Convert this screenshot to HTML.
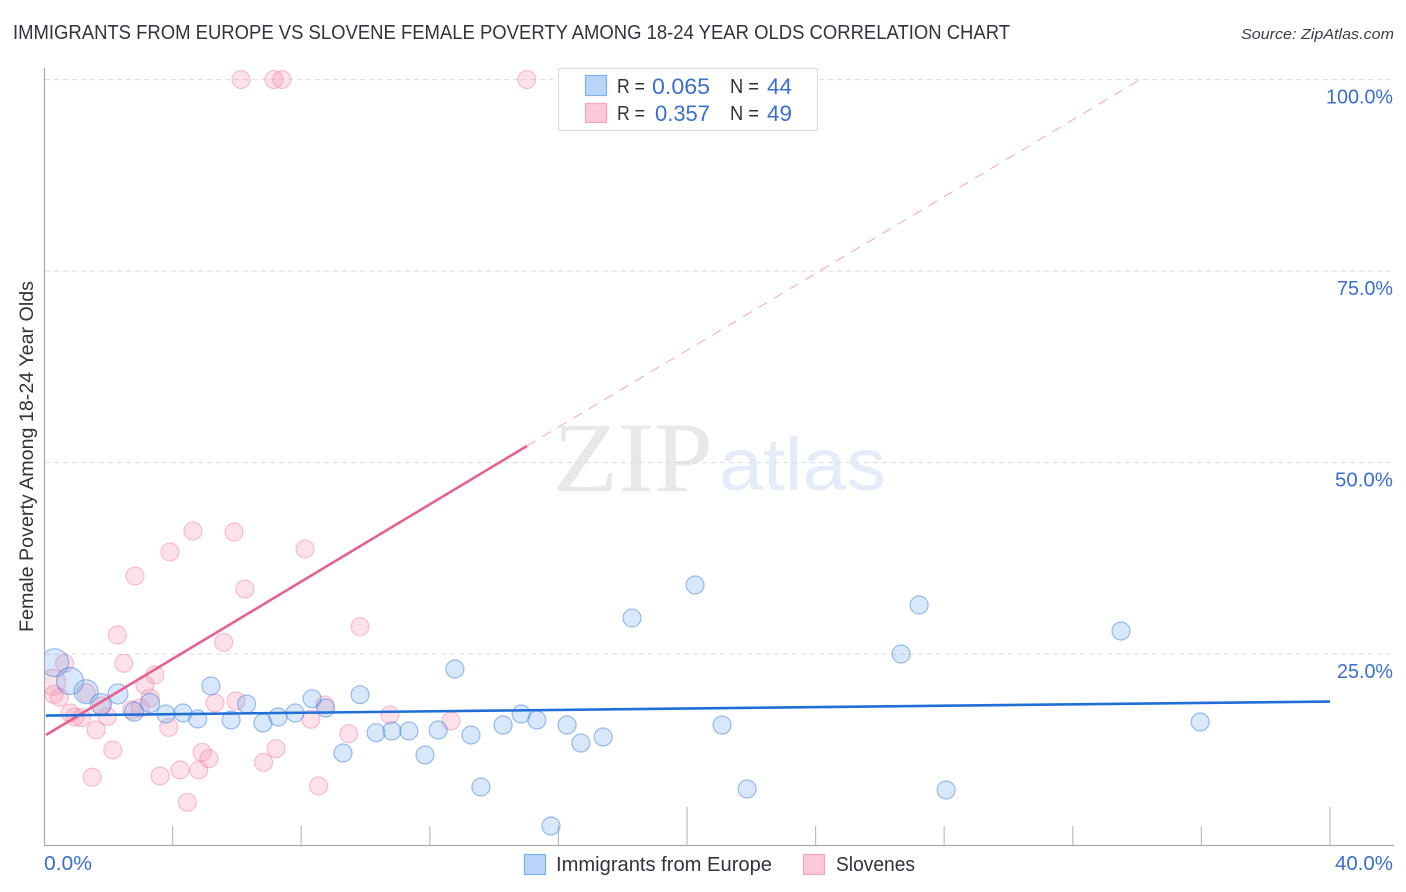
<!DOCTYPE html>
<html lang="en">
<head>
<meta charset="utf-8">
<title>Immigrants from Europe vs Slovene Female Poverty Correlation Chart</title>
<style>
html,body{margin:0;padding:0;background:#fff;width:1406px;height:892px;overflow:hidden}
svg{display:block}
text{font-family:"Liberation Sans",sans-serif}
</style>
</head>
<body>
<svg id="chart" xmlns="http://www.w3.org/2000/svg" width="1406" height="892" viewBox="0 0 1406 892">
  <defs>
    <clipPath id="plot-clip"><rect x="45" y="60" width="1349" height="785"/></clipPath>
  </defs>
  <rect x="0" y="0" width="1406" height="892" fill="#ffffff"/>
  <text x="13" y="39" font-size="20" fill="#2f343d" textLength="997" lengthAdjust="spacingAndGlyphs">IMMIGRANTS FROM EUROPE VS SLOVENE FEMALE POVERTY AMONG 18-24 YEAR OLDS CORRELATION CHART</text>
  <text x="1241" y="39" font-size="15" font-style="italic" fill="#3a3f48" textLength="153" lengthAdjust="spacingAndGlyphs">Source: ZipAtlas.com</text>
  <text x="553" y="491" style="font-family:'Liberation Serif',serif" font-size="100" fill="#e8e8e8" textLength="160" lengthAdjust="spacingAndGlyphs">ZIP</text>
  <text x="719" y="490" font-size="74" fill="#e3ecf8" textLength="167" lengthAdjust="spacingAndGlyphs">atlas</text>
  <g id="grid"></g>
  <g id="axes"></g>
  <g clip-path="url(#plot-clip)">
    <g id="pink-points"></g>
    <g id="blue-points"></g>
  </g>
  <g id="trends"></g>
  <g id="tick-labels"></g>
  <text transform="translate(33,632) rotate(-90)" font-size="19" fill="#2f343d" textLength="351" lengthAdjust="spacingAndGlyphs">Female Poverty Among 18-24 Year Olds</text>

  <g>
    <rect x="558.5" y="68.5" width="259" height="62" fill="#ffffff" stroke="#dddddd" stroke-width="1.2"/>
    <rect x="585.5" y="75.5" width="21" height="20" fill="#b9d4f7" stroke="#7fb0ea" stroke-width="1.2"/>
    <rect x="585.5" y="103.5" width="21" height="19" fill="#fbc8d8" stroke="#f4a6bf" stroke-width="1.2"/>
    <text x="617" y="93" font-size="20" fill="#2f343d" textLength="28" lengthAdjust="spacingAndGlyphs">R =</text>
    <text x="652" y="94" font-size="22" fill="#3a6fd0" textLength="58" lengthAdjust="spacingAndGlyphs">0.065</text>
    <text x="730" y="93" font-size="20" fill="#2f343d" textLength="29" lengthAdjust="spacingAndGlyphs">N =</text>
    <text x="767" y="94" font-size="22" fill="#3a6fd0" textLength="25" lengthAdjust="spacingAndGlyphs">44</text>
    <text x="617" y="120" font-size="20" fill="#2f343d" textLength="28" lengthAdjust="spacingAndGlyphs">R =</text>
    <text x="655" y="121" font-size="22" fill="#3a6fd0" textLength="55" lengthAdjust="spacingAndGlyphs">0.357</text>
    <text x="730" y="120" font-size="20" fill="#2f343d" textLength="29" lengthAdjust="spacingAndGlyphs">N =</text>
    <text x="767" y="121" font-size="22" fill="#3a6fd0" textLength="25" lengthAdjust="spacingAndGlyphs">49</text>
  </g>

  <g>
    <g>
      <rect x="524.5" y="854.5" width="21" height="20" fill="#b9d4f7" stroke="#7fb0ea" stroke-width="1.2"/>
      <text x="556" y="871" font-size="20" fill="#2f343d" textLength="216" lengthAdjust="spacingAndGlyphs">Immigrants from Europe</text>
    </g>
    <g>
      <rect x="803.5" y="854.5" width="21" height="20" fill="#fbc8d8" stroke="#f4a6bf" stroke-width="1.2"/>
      <text x="836" y="871" font-size="20" fill="#2f343d" textLength="79" lengthAdjust="spacingAndGlyphs">Slovenes</text>
    </g>
  </g>
</svg>

<script>
// Data (percent units)
const blueX = [0.33,0.81,1.31,1.77,2.30,2.80,3.30,3.79,4.32,4.78,5.19,5.82,6.30,6.81,7.28,7.81,8.34,8.76,9.83,9.30,10.33,10.82,11.35,11.85,12.26,12.78,13.28,13.59,14.28,14.84,15.33,15.77,16.27,16.70,17.39,18.29,20.25,21.09,21.87,26.66,27.22,28.06,33.50,35.96];
const blueY = [23.88,21.49,20.09,18.49,19.79,17.48,18.62,17.18,17.31,16.53,20.84,16.40,18.49,16.01,16.79,17.31,19.18,17.96,19.70,12.09,14.74,14.96,14.96,11.83,15.09,23.05,14.44,7.65,15.74,17.18,16.40,2.56,15.74,13.39,14.18,29.71,34.02,15.74,7.39,25.01,31.41,7.26,28.02,16.14];
const blueWeight = [14,13.5,12,10.5,10,9.5,9.5,9,9,9,9,9,9,9,9,9,9,9,9,9,9,9,9,9,9,9,9,9,9,9,9,9,9,9,9,9,9,9,9,9,9,9,9,9];
const pinkX = [2.28,5.59,9.83,0.64,2.48,3.45,3.14,0.27,0.31,0.48,3.30,2.99,5.97,5.32,8.74,1.79,1.97,0.81,0.96,1.17,2.73,1.62,3.88,8.30,9.48,2.14,4.92,5.13,4.23,4.81,7.22,6.83,3.61,1.50,8.54,4.46,6.13,7.15,7.40,15.02,2.83,3.92,4.63,5.91,6.25,8.12,10.76,12.66,1.31];
const pinkY = [27.49,26.54,28.58,23.80,23.80,22.27,20.97,21.32,19.75,19.36,19.27,17.96,18.88,18.62,18.36,18.22,16.83,17.31,16.79,16.70,17.70,15.09,15.44,16.49,14.61,12.48,12.18,11.34,9.87,9.87,12.65,10.87,9.09,8.92,7.78,5.65,100,100,100,100,35.20,38.33,41.07,40.94,33.50,38.72,17.05,16.27,19.96];
const pinkWeight = [9,9,9,9,9,9,9,13,9,9,9,9,9,9,9,9,9,9,9,9,9,9,9,9,9,9,9,9,9,9,9,9,9,9,9,9,9,9,9,9,9,9,9,9,9,9,9,9,9];
const blueTrendX = [0.06,40];
const blueTrendY = [16.98,18.81];
const pinkTrendX = [0.06,15.02];
const pinkTrendY = [14.44,52.17];
const pinkDashX = [15.02,34.09];
const pinkDashY = [52.17,100];
const yGridValues = [25,50,75,100];
const yTickLabels = ["25.0%","50.0%","75.0%","100.0%"];
const yTickLabelWidths = [56,58,56,67];
const xTickValues = [4,8,12,16,20,24,28,32,36,40];
const xMajorTicks = [20,40];
const xEdgeValues = [0,40];
const xEdgeLabels = ["0.0%","40.0%"];

// Axis functions
const xAxisOrigin = 44, xPerUnit = 32.15;
const yAxisOrigin = 845.6, yPerUnit = 7.66;
function sx(v){ return xAxisOrigin + v * xPerUnit; }
function sy(v){ return yAxisOrigin - v * yPerUnit; }
const NS = 'http://www.w3.org/2000/svg';
function mk(parent, tag, props){
  const el = document.createElementNS(NS, tag);
  for (const k in props) el.setAttribute(k, props[k]);
  parent.appendChild(el);
  return el;
}

// Gridlines
const gridG = document.getElementById('grid');
yGridValues.forEach(function(v){
  const el = mk(gridG, 'line', {x1:45, x2:1394, y1:sy(v), y2:sy(v), stroke:'#dcdcdc', 'stroke-width':1, 'stroke-dasharray':'5 4'});
  
  
});

// Axes and ticks
const axesG = document.getElementById('axes');
const yAxisLine = mk(axesG, 'line', {x1:44.5, x2:44.5, y1:68, y2:846, stroke:'#aaaaaa', 'stroke-width':1.2});


const xAxisLine = mk(axesG, 'line', {x1:44, x2:1394, y1:845.5, y2:845.5, stroke:'#aaaaaa', 'stroke-width':1.2});


xTickValues.forEach(function(v){
  const top = xMajorTicks.indexOf(v) >= 0 ? 807 : 826;
  const el = mk(axesG, 'line', {x1:sx(v), x2:sx(v), y1:top, y2:845, stroke:'#bcbcbc', 'stroke-width':1.2});
  
  
});

// Tick labels
const labelsG = document.getElementById('tick-labels');
yGridValues.forEach(function(v, i){
  const el = mk(labelsG, 'text', {x:1393 - yTickLabelWidths[i], y:sy(v) + 24, 'font-size':20, fill:'#3a6fd0', textLength:yTickLabelWidths[i], lengthAdjust:'spacingAndGlyphs'});
  
  
  el.textContent = yTickLabels[i];
});
xEdgeValues.forEach(function(v, i){
  const anchorEnd = i === 1;
  const el = mk(labelsG, 'text', {x: anchorEnd ? 1335 : sx(v), y:870, 'font-size':20, fill:'#3a6fd0', textLength: anchorEnd ? 58 : 48, lengthAdjust:'spacingAndGlyphs'});
  
  
  el.textContent = xEdgeLabels[i];
});

// Points
const pinkG = document.getElementById('pink-points');
pinkX.forEach(function(v, i){
  const el = mk(pinkG, 'circle', {cx:sx(v), cy:sy(pinkY[i]), r:pinkWeight[i], fill:'#f78fb0', 'fill-opacity':0.27, stroke:'#ee7fa3', 'stroke-opacity':0.45, 'stroke-width':1.2});
  
  
});
const blueG = document.getElementById('blue-points');
blueX.forEach(function(v, i){
  const el = mk(blueG, 'circle', {cx:sx(v), cy:sy(blueY[i]), r:blueWeight[i], fill:'#72a8ec', 'fill-opacity':0.27, stroke:'#3f80dc', 'stroke-opacity':0.5, 'stroke-width':1.2});
  
  
});

// Trend lines
const trendG = document.getElementById('trends');
const pinkDash = mk(trendG, 'line', {x1:sx(pinkDashX[0]), y1:sy(pinkDashY[0]), x2:sx(pinkDashX[1]), y2:sy(pinkDashY[1]), stroke:'#ee7fa3', 'stroke-opacity':0.7, 'stroke-width':1, 'stroke-dasharray':'10 8'});


const pinkTrend = mk(trendG, 'line', {x1:sx(pinkTrendX[0]), y1:sy(pinkTrendY[0]), x2:sx(pinkTrendX[1]), y2:sy(pinkTrendY[1]), stroke:'#e8608f', 'stroke-width':2.6});


const blueTrend = mk(trendG, 'line', {x1:sx(blueTrendX[0]), y1:sy(blueTrendY[0]), x2:sx(blueTrendX[1]), y2:sy(blueTrendY[1]), stroke:'#1f6fd6', 'stroke-width':2.6});


</script>
</body>
</html>
